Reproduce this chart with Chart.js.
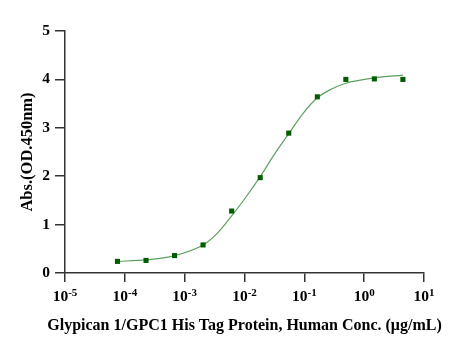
<!DOCTYPE html>
<html>
<head>
<meta charset="utf-8">
<script src="https://cdn.jsdelivr.net/npm/chart.js@4/dist/chart.umd.min.js"></script>
<style>
html,body{margin:0;padding:0;background:#fff;}
#wrap{width:474px;height:351px;}
</style>
</head>
<body>
<div id="wrap"><canvas id="c" width="474" height="351"></canvas></div>
<script>
// Concentrations (µg/mL)
const concentrations = [0.0000753, 0.000226, 0.000677, 0.00203, 0.0061, 0.0183, 0.0549, 0.165, 0.494, 1.48, 4.44];
// Measured absorbance
const absorbance = [0.24, 0.26, 0.36, 0.58, 1.28, 1.97, 2.89, 3.64, 4.00, 4.01, 4.00];
// Fitted curve
const curveX = [0.0000753, 0.000226, 0.000677, 0.00203, 0.0035, 0.0061, 0.0103, 0.0183, 0.0315, 0.0549, 0.094, 0.165, 0.285, 0.494, 1.48, 4.44];
const curveY = [0.24, 0.27, 0.36, 0.58, 0.82, 1.18, 1.55, 1.99, 2.45, 2.88, 3.29, 3.62, 3.80, 3.92, 4.03, 4.09];
const xTickExponents = [-5, -4, -3, -2, -1, 0, 1];
const yTicks = [0, 1, 2, 3, 4, 5];
const xTitle = 'Glypican 1/GPC1 His Tag Protein, Human Conc. (\u03bcg/mL)';
const yTitle = 'Abs.(OD.450nm)';

const axisColor = '#333333';
const fontFam = "'Liberation Serif','Times New Roman',serif";

// Draws x tick labels as 10 with a raised exponent, and the x-axis title at full width
const powerLabels = {
  id: 'powerLabels',
  afterDraw(chart) {
    const s = chart.scales.x;
    const ctx = chart.ctx;
    ctx.save();
    ctx.fillStyle = '#000';
    ctx.textBaseline = 'alphabetic';
    ctx.textAlign = 'left';
    const baseFont = 'bold 15.5px ' + fontFam;
    const expFont = 'bold 11px ' + fontFam;
    const baseY = s.top + 28;
    xTickExponents.forEach(e => {
      const px = s.getPixelForValue(Math.pow(10, e));
      const base = '10';
      const ex = e < 0 ? '-' + Math.abs(e) : String(e);
      ctx.font = baseFont;
      const wb = ctx.measureText(base).width;
      ctx.font = expFont;
      const we = ctx.measureText(ex).width;
      const x0 = px - (wb + we) / 2;
      ctx.font = baseFont;
      ctx.fillText(base, x0, baseY);
      ctx.font = expFont;
      ctx.fillText(ex, x0 + wb, baseY - 5);
    });
    // x-axis title
    ctx.font = 'bold 16px ' + fontFam;
    ctx.textAlign = 'center';
    ctx.fillText(xTitle, (s.left + s.right) / 2, s.top + 56.5);
    ctx.restore();
  }
};

new Chart(document.getElementById('c'), {
  type: 'scatter',
  data: {
    datasets: [
      {
        label: 'fit',
        data: curveX.map((x,i)=>({x:x, y:curveY[i]})),
        showLine: true,
        borderColor: '#5f9f5f',
        borderWidth: 1.2,
        pointRadius: 0,
        cubicInterpolationMode: 'monotone',
        order: 2
      },
      {
        label: 'data',
        data: concentrations.map((x,i)=>({x:x, y:absorbance[i]})),
        showLine: false,
        pointStyle: 'rect',
        pointRadius: 3.6,
        backgroundColor: '#005c00',
        borderColor: '#005c00',
        borderWidth: 0,
        order: 1
      }
    ]
  },
  plugins: [powerLabels],
  options: {
    responsive: false,
    animation: false,
    devicePixelRatio: 1,
    layout: {padding: {left: 0, right: 50, top: 31, bottom: 0}},
    plugins: {legend: {display: false}, tooltip: {enabled: false}},
    scales: {
      x: {
        type: 'logarithmic',
        min: 1e-5,
        max: 10,
        afterBuildTicks: (s) => { s.ticks = xTickExponents.map(e => ({value: Math.pow(10, e)})); },
        afterFit: (s) => { s.height = 78; },
        grid: {drawOnChartArea: false, drawTicks: true, tickLength: 9, color: axisColor, lineWidth: 1.5},
        border: {color: axisColor, width: 1.5},
        ticks: {
          autoSkip: false,
          maxRotation: 0,
          padding: 6,
          color: 'rgba(0,0,0,0)',
          font: {family: fontFam, size: 15, weight: 'bold'},
          callback: (v) => '10^' + Math.round(Math.log10(v))
        },
        title: {display: false, text: xTitle}
      },
      y: {
        min: 0,
        max: 5,
        afterBuildTicks: (s) => { s.ticks = yTicks.map(v => ({value: v})); },
        afterFit: (s) => { s.width = 65; },
        grid: {drawOnChartArea: false, drawTicks: true, tickLength: 10, color: axisColor, lineWidth: 1.5},
        border: {color: axisColor, width: 1.5},
        ticks: {
          padding: 5,
          color: '#000',
          font: {family: fontFam, size: 15.5, weight: 'bold'}
        },
        title: {
          display: true,
          text: yTitle,
          color: '#000',
          font: {family: fontFam, size: 16.5, weight: 'bold'},
          padding: {top: 18, bottom: 0}
        }
      }
    }
  }
});
</script>
</body>
</html>
